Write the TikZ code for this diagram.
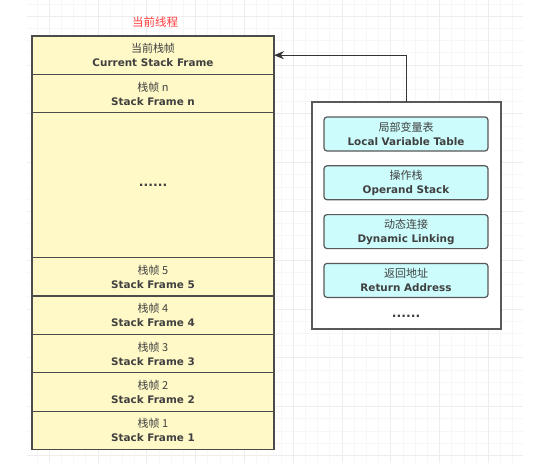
\documentclass[tikz,border=0pt]{standalone}
\usepackage{fontspec}
\setsansfont{DejaVu Sans}
\newfontfamily\cjk{Noto Sans CJK SC}
\usetikzlibrary{arrows.meta,positioning}
\definecolor{framefill}{HTML}{FFF9C8}
\definecolor{partfill}{HTML}{CCFCFC}
\definecolor{titlered}{HTML}{FF3B3B}
\newcommand{\cnen}[2]{{\cjk\fontsize{11}{14}\selectfont #1}\\{\sffamily\bfseries #2}}
\tikzset{
  frame/.style={draw=black!70, line width=1.2pt, fill=framefill, minimum width=242pt,
    minimum height=38.4pt, inner sep=0pt, outer sep=0pt, align=center, text=black!75,
    font=\fontsize{10.4}{14}\selectfont},
  part/.style={draw=black!65, line width=1.2pt, fill=partfill, rounded corners=3pt,
    minimum width=164pt, minimum height=34pt, inner sep=0pt, outer sep=0pt, align=center,
    text=black!75, font=\fontsize{10.4}{14}\selectfont},
  dots/.style={text=black!75, font=\sffamily\bfseries\fontsize{12.5}{12}\selectfont},
}

\begin{document}
\begin{tikzpicture}[x=1pt,y=-1pt]
    \useasboundingbox (0,0) rectangle (542,463);
    \foreach \i in {0,...,39} \draw[black!3](36.8+12.2*\i,0)--(36.8+12.2*\i,463);
    \foreach \i in {0,...,37} \draw[black!3](27,3.8+12.2*\i)--(523,3.8+12.2*\i);
    \foreach \i in {0,...,9} \draw[black!7](49+48.8*\i,0)--(49+48.8*\i,463);
    \foreach \i in {0,...,9} \draw[black!7](27,16+48.8*\i)--(523,16+48.8*\i);
    \node[text=titlered, font=\cjk\fontsize{11.5}{12}\selectfont] (thread) at (155,22) {当前线程};
    \node[frame] (cur) at (153,55.2) {\cnen{当前栈帧}{Current Stack Frame}};
    \node[frame, below=0pt of cur] (fn) {\cnen{栈帧 n}{Stack Frame n}};
    \node[frame, dots, below=0pt of fn, minimum height=144.8pt] (fdots) {......};
    \node[frame, below=0pt of fdots] (f5) {\cnen{栈帧 5}{Stack Frame 5}};
    \node[frame, below=0pt of f5] (f4) {\cnen{栈帧 4}{Stack Frame 4}};
    \node[frame, below=0pt of f4] (f3) {\cnen{栈帧 3}{Stack Frame 3}};
    \node[frame, below=0pt of f3] (f2) {\cnen{栈帧 2}{Stack Frame 2}};
    \node[frame, below=0pt of f2] (f1) {\cnen{栈帧 1}{Stack Frame 1}};
    \node[draw=black!65, line width=1.2pt, fill=white, minimum width=189pt, minimum height=227pt,
      outer sep=0pt] (vars) at (406.5,215.5) {};
    \node[part] (locals) at (406,134) {\cnen{局部变量表}{Local Variable Table}};
    \node[part, below=14.8pt of locals] (operand) {\cnen{操作栈}{Operand Stack}};
    \node[part, below=14.8pt of operand] (linking) {\cnen{动态连接}{Dynamic Linking}};
    \node[part, below=14.8pt of linking] (retaddr) {\cnen{返回地址}{Return Address}};
    \node[dots] (vdots) at (406,316) {......};
    \draw[-{Stealth[length=10pt,width=8pt]}, line width=1.3pt, black!80](vars.north)|-(cur.east);
  \end{tikzpicture}
\end{document}
